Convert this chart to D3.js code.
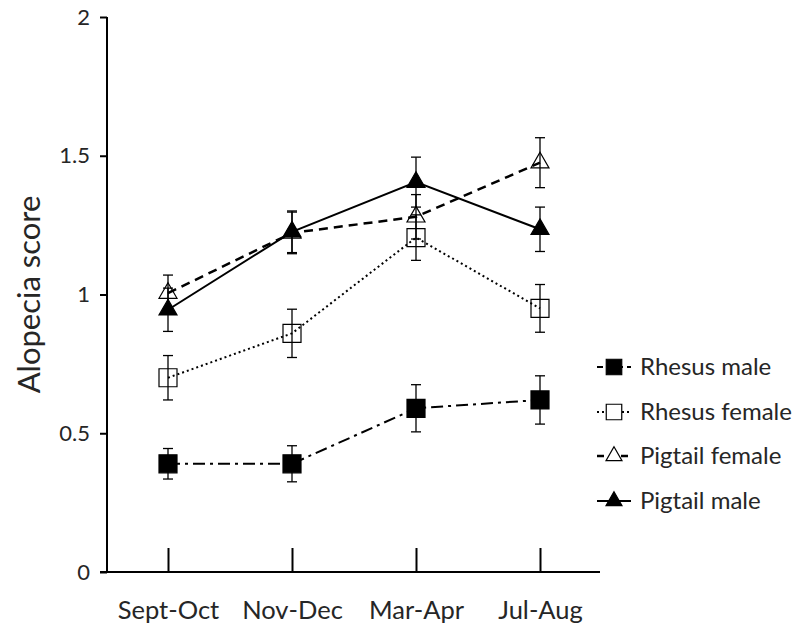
<!DOCTYPE html>
<html>
<head>
<meta charset="utf-8">
<script src="https://cdn.jsdelivr.net/npm/d3@7"></script>
<style>
  html, body { margin: 0; padding: 0; background: #fff; }
  text { font-family: Lato, "Open Sans", sans-serif; fill: #262626; }
</style>
</head>
<body>
<svg id="chart" width="800" height="629"></svg>
<script>
const categories = ["Sept-Oct", "Nov-Dec", "Mar-Apr", "Jul-Aug"];
const yTicks = [0, 0.5, 1, 1.5, 2];
const yTickLabels = ["0", "0.5", "1", "1.5", "2"];

const seriesNames = ["Rhesus male", "Rhesus female", "Pigtail female", "Pigtail male"];
const rhesusMale = [0.39, 0.39, 0.59, 0.62];
const rhesusMaleErr = [0.055, 0.065, 0.085, 0.087];
const rhesusFemale = [0.70, 0.86, 1.205, 0.95];
const rhesusFemaleErr = [0.08, 0.087, 0.082, 0.086];
const pigtailFemale = [1.005, 1.222, 1.28, 1.475];
const pigtailFemaleErr = [0.065, 0.075, 0.08, 0.09];
const pigtailMale = [0.945, 1.226, 1.405, 1.235];
const pigtailMaleErr = [0.078, 0.075, 0.09, 0.08];

const styles = [
  { dash: "12,5,3,5", width: 2, shape: "square", fill: "#000" },
  { dash: "2,3", width: 2, shape: "square", fill: "none" },
  { dash: "9,6", width: 2.5, shape: "triangle", fill: "none" },
  { dash: null, width: 2, shape: "triangle", fill: "#000" }
];
const seriesValues = [rhesusMale, rhesusFemale, pigtailFemale, pigtailMale];
const seriesErrs = [rhesusMaleErr, rhesusFemaleErr, pigtailFemaleErr, pigtailMaleErr];

const svg = d3.select("#chart");
const x = d3.scalePoint().domain(categories).range([168, 540]);
const y = d3.scaleLinear().domain([0, 2]).range([572, 17]);

function symbolPath(shape, big) {
  if (shape === "square") return d3.symbol(d3.symbolSquare, big ? 324 : 240)();
  return d3.symbol(d3.symbolTriangle, big ? 140 : 110)();
}

// Y axis
const yAxis = svg.append("g").attr("transform", "translate(107,0)")
  .call(d3.axisLeft(y).tickValues(yTicks).tickFormat((d, i) => yTickLabels[i]).tickSize(7).tickPadding(10));
yAxis.select(".domain").attr("stroke", "#000").attr("stroke-width", 2).attr("d", `M0,${y(2)}V${y(0)}`);
yAxis.selectAll(".tick line").attr("stroke", "#000").attr("stroke-width", 2);
yAxis.selectAll(".tick text").attr("font-size", 22).attr("fill", "#262626").style("font-family", "Lato, sans-serif");

// X axis
const xAxis = svg.append("g").attr("transform", "translate(0,572)")
  .call(d3.axisBottom(x).tickSize(-24).tickPadding(29));
xAxis.select(".domain").attr("stroke", "#000").attr("stroke-width", 2).attr("d", "M100,0H600");
xAxis.selectAll(".tick line").attr("stroke", "#000").attr("stroke-width", 2);
xAxis.selectAll(".tick text").attr("font-size", 25.5).attr("fill", "#262626").style("font-family", "Lato, sans-serif");

// Y title
svg.append("text")
  .attr("transform", `translate(40,${y(1)}) rotate(-90)`)
  .attr("text-anchor", "middle")
  .attr("font-size", 31)
  .text("Alopecia score");

const line = d3.line().x((d, i) => x(categories[i])).y(d => y(d));

seriesValues.forEach((vals, s) => {
  const st = styles[s];
  const g = svg.append("g");
  vals.forEach((v, i) => {
    const cx = x(categories[i]);
    const e = seriesErrs[s][i];
    g.append("line").attr("x1", cx).attr("x2", cx).attr("y1", y(v + e)).attr("y2", y(v - e))
      .attr("stroke", "#000").attr("stroke-width", 1.3);
    [v + e, v - e].forEach(t => {
      g.append("line").attr("x1", cx - 5).attr("x2", cx + 5).attr("y1", y(t)).attr("y2", y(t))
        .attr("stroke", "#000").attr("stroke-width", 1.3);
    });
  });
  g.append("path").datum(vals).attr("d", line)
    .attr("fill", "none").attr("stroke", "#000").attr("stroke-width", st.width)
    .attr("stroke-dasharray", st.dash);
  g.selectAll(".mk").data(vals).enter().append("path")
    .attr("transform", (d, i) => `translate(${x(categories[i])},${y(d)})`)
    .attr("d", symbolPath(st.shape, true))
    .attr("fill", st.fill).attr("stroke", "#000").attr("stroke-width", 1.2);
});

// Legend
const legendY = [367, 412, 456, 501];
seriesNames.forEach((name, s) => {
  const st = styles[s];
  const gy = legendY[s];
  const lg = svg.append("g").attr("transform", `translate(0,${gy})`);
  lg.append("line").attr("x1", 597).attr("x2", 631).attr("y1", 0).attr("y2", 0)
    .attr("stroke", "#000").attr("stroke-width", st.width)
    .attr("stroke-dasharray", s === 0 ? "6,4" : s === 2 ? "7,5" : st.dash);
  lg.append("path").attr("transform", "translate(614,0)")
    .attr("d", symbolPath(st.shape, false))
    .attr("fill", st.fill === "none" ? "#fff" : st.fill).attr("stroke", "#000").attr("stroke-width", 1.2);
  lg.append("text").attr("x", 640).attr("y", 0).attr("dy", "0.35em")
    .attr("font-size", 24).text(name);
});
</script>
</body>
</html>
